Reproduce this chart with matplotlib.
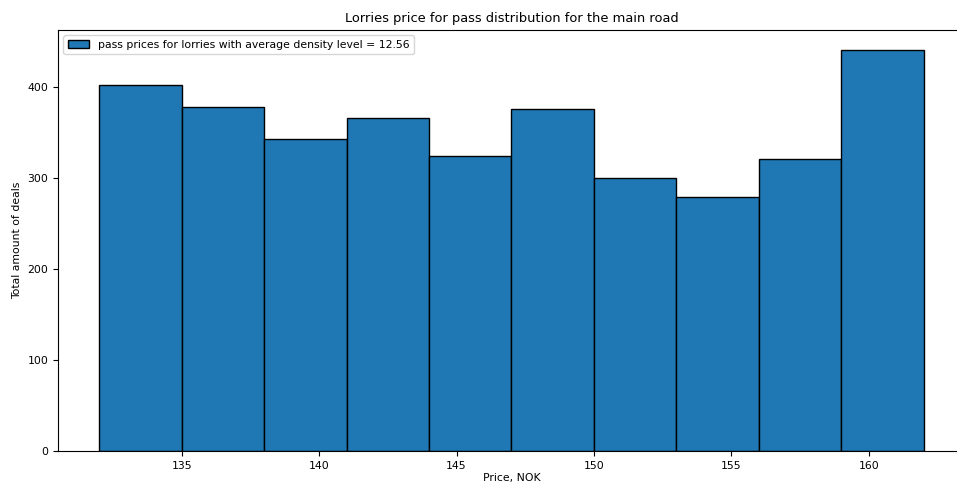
import numpy as np
import matplotlib
matplotlib.use("Agg")
import matplotlib.pyplot as plt

# bin edges of the price histogram and deal counts per bin
bin_edges = [132, 135, 138, 141, 144, 147, 150, 153, 156, 159, 162]
deal_counts = [403, 378, 343, 366, 324, 376, 300, 279, 321, 441]
density_level = 12.56

fig = plt.figure(figsize=(9.57, 4.84), dpi=100)
# axes run slightly past the right border of the figure
ax = fig.add_axes([58 / 957, 1 - 451 / 484, 907 / 957, 421 / 484])

ax.hist(bin_edges[:-1], bins=bin_edges, weights=deal_counts,
        color="#1f77b4", edgecolor="black",
        label="pass prices for lorries with average density level = {}".format(density_level))

ax.set_xlim(130.5, 163.5)
ax.set_ylim(0, 463)
ax.set_xticks([135, 140, 145, 150, 155, 160])
ax.set_yticks([0, 100, 200, 300, 400])
ax.tick_params(labelsize=7.8)

ax.set_title("Lorries price for pass distribution for the main road", fontsize=9.4)
ax.set_xlabel("Price, NOK", fontsize=7.8, labelpad=2)
ax.set_ylabel("Total amount of deals", fontsize=7.8)
ax.legend(loc="upper left", fontsize=7.8)

plt.savefig("out.png", dpi=100)
